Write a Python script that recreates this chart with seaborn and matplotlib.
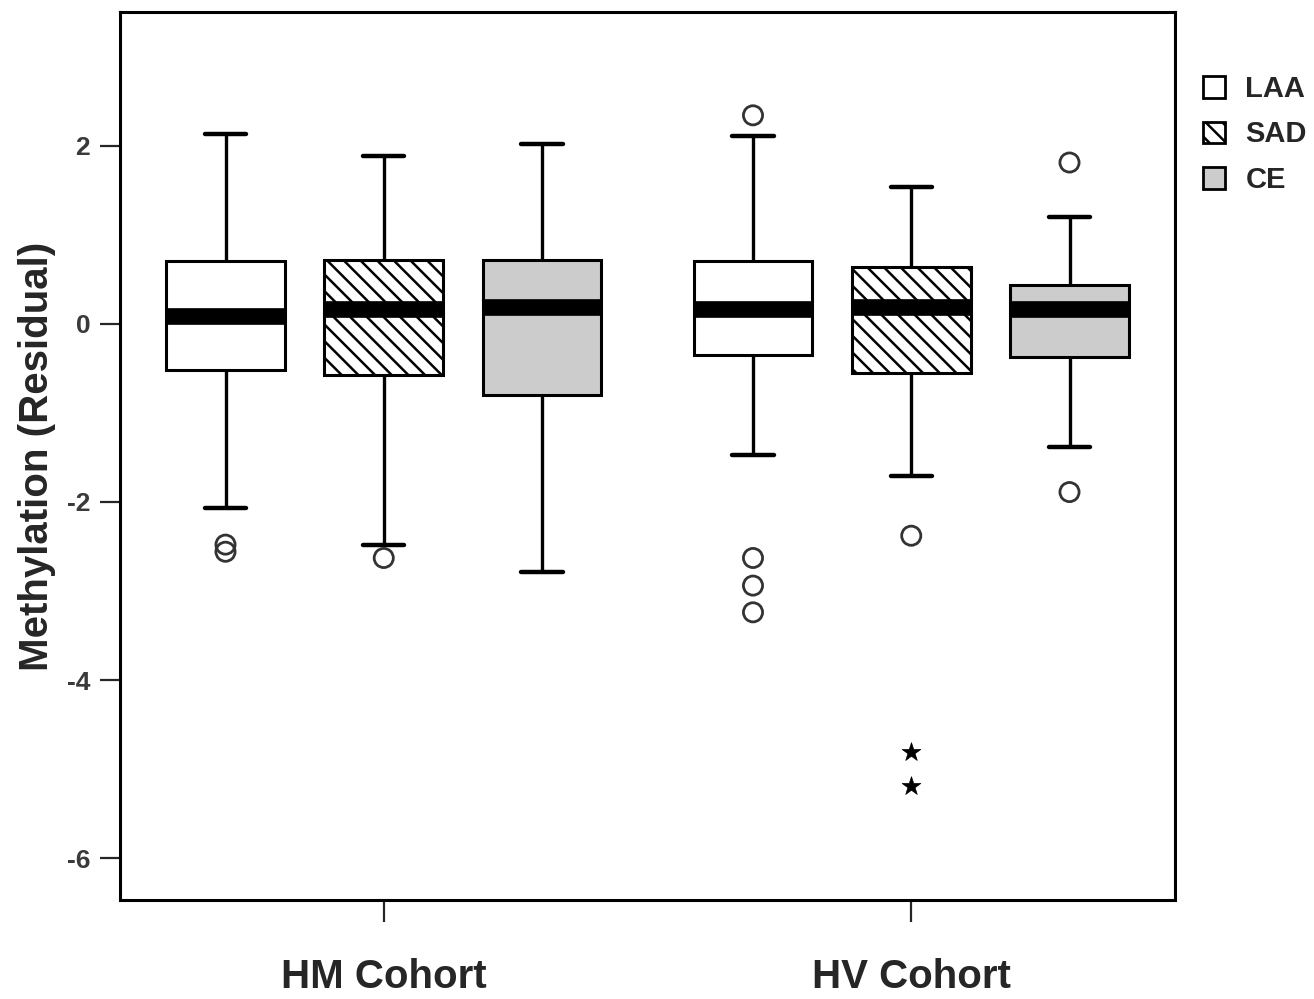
import numpy as np
import pandas as pd
import matplotlib
matplotlib.use("Agg")
import matplotlib.pyplot as plt
from matplotlib.patches import Patch
import seaborn as sns

# ---------------- data ----------------
cohorts = ["HM Cohort", "HV Cohort"]
groups = ["LAA", "SAD", "CE"]

whisker_low = [[-2.07, -2.48, -2.79], [-1.47, -1.71, -1.38]]
q1 = [[-0.52, -0.57, -0.80], [-0.35, -0.55, -0.37]]
median = [[0.09, 0.16, 0.19], [0.17, 0.19, 0.16]]
q3 = [[0.70, 0.72, 0.71], [0.70, 0.64, 0.43]]
whisker_high = [[2.13, 1.88, 2.02], [2.11, 1.54, 1.20]]

outlier_cohort = ["HM Cohort", "HM Cohort", "HM Cohort",
                  "HV Cohort", "HV Cohort", "HV Cohort", "HV Cohort",
                  "HV Cohort", "HV Cohort", "HV Cohort"]
outlier_group = ["LAA", "LAA", "SAD",
                 "LAA", "LAA", "LAA", "LAA",
                 "SAD", "CE", "CE"]
outlier_value = [-2.48, -2.56, -2.63,
                 2.34, -2.63, -2.94, -3.24,
                 -2.38, 1.81, -1.89]

extreme_cohort = ["HV Cohort", "HV Cohort"]
extreme_group = ["SAD", "SAD"]
extreme_value = [-4.81, -5.19]

yticks = [2, 0, -2, -4, -6]
ylabel = "Methylation (Residual)"

# ---------------- build tables ----------------
rows = []
for ci, c in enumerate(cohorts):
    for gi, g in enumerate(groups):
        for v in (whisker_low[ci][gi], q1[ci][gi], median[ci][gi],
                  q3[ci][gi], whisker_high[ci][gi]):
            rows.append({"cohort": c, "group": g, "value": v})
box_df = pd.DataFrame(rows)

BOX_WIDTH = 0.9
GAP = 0.25
hue_step = BOX_WIDTH / len(groups)


def dodge_x(cs, gs):
    return [cohorts.index(c) + (groups.index(g) - 1) * hue_step for c, g in zip(cs, gs)]


out_df = pd.DataFrame({"x": dodge_x(outlier_cohort, outlier_group), "value": outlier_value})
ext_df = pd.DataFrame({"x": dodge_x(extreme_cohort, extreme_group), "value": extreme_value})

# ---------------- style ----------------
sns.set_style("white")
plt.rcParams["font.family"] = ["Liberation Sans", "DejaVu Sans"]
plt.rcParams["font.weight"] = "bold"
plt.rcParams["hatch.linewidth"] = 1.8

fill = {"LAA": "#ffffff", "SAD": "#ffffff", "CE": "#cccccc"}

fig = plt.figure(figsize=(13.14, 9.99), dpi=100)
ax = fig.add_axes([120 / 1314, 1 - 900 / 999, (1175 - 120) / 1314, (900 - 12) / 999])

sns.boxplot(data=box_df, x="cohort", y="value", hue="group",
            order=cohorts, hue_order=groups, palette=fill,
            width=BOX_WIDTH, gap=GAP, whis=np.inf, dodge=True,
            linecolor="black", linewidth=2.2, legend=False,
            medianprops={"linewidth": 12, "color": "black"},
            whiskerprops={"linewidth": 2.4},
            capprops={"linewidth": 3.2},
            capwidths=0.078, ax=ax)

# hatch the SAD boxes (patches are created per hue level in order)
box_patches = [p for p in ax.patches]
per_level = len(cohorts)
for p in box_patches[per_level:2 * per_level]:
    p.set_hatch("\\\\")
    p.set_edgecolor("black")

sns.scatterplot(data=out_df, x="x", y="value", marker="o", s=190,
                facecolor="none", edgecolor="#333333", linewidth=2.0,
                legend=False, ax=ax, zorder=5)
sns.scatterplot(data=ext_df, x="x", y="value", marker="*", s=200,
                color="black", edgecolor="black", linewidth=0.5,
                legend=False, ax=ax, zorder=5)

ax.set_xlim(-0.5, 1.5)
ax.set_ylim(-6.47, 3.5)
ax.set_yticks(yticks)
ax.set_yticklabels([str(t) for t in yticks], fontsize=19, color="#3a3a3a", fontweight="bold")
ax.set_xticks(range(len(cohorts)))
ax.set_xticklabels(cohorts, fontsize=29, fontweight="bold")
ax.set_xlabel("")
ax.set_ylabel(ylabel, fontsize=29, fontweight="bold", labelpad=8)

ax.tick_params(axis="y", direction="out", length=14.5, width=1.6, pad=7, left=True)
ax.tick_params(axis="x", direction="out", length=16, width=1.6, pad=26, bottom=True)
for sp in ax.spines.values():
    sp.set_linewidth(2.2)
    sp.set_color("black")

handles = [Patch(facecolor=fill[g], edgecolor="black", linewidth=2.0,
                 hatch=("\\\\" if g == "SAD" else None), label=g) for g in groups]
fig.legend(handles=handles, loc="upper left",
           bbox_to_anchor=(1203 / 1314, 1 - 75 / 999), frameon=False,
           prop={"weight": "bold", "size": 21},
           handlelength=0.75, handleheight=0.75, handletextpad=0.7,
           labelspacing=0.6, borderaxespad=0, borderpad=0)

fig.savefig("out.png", dpi=100)
